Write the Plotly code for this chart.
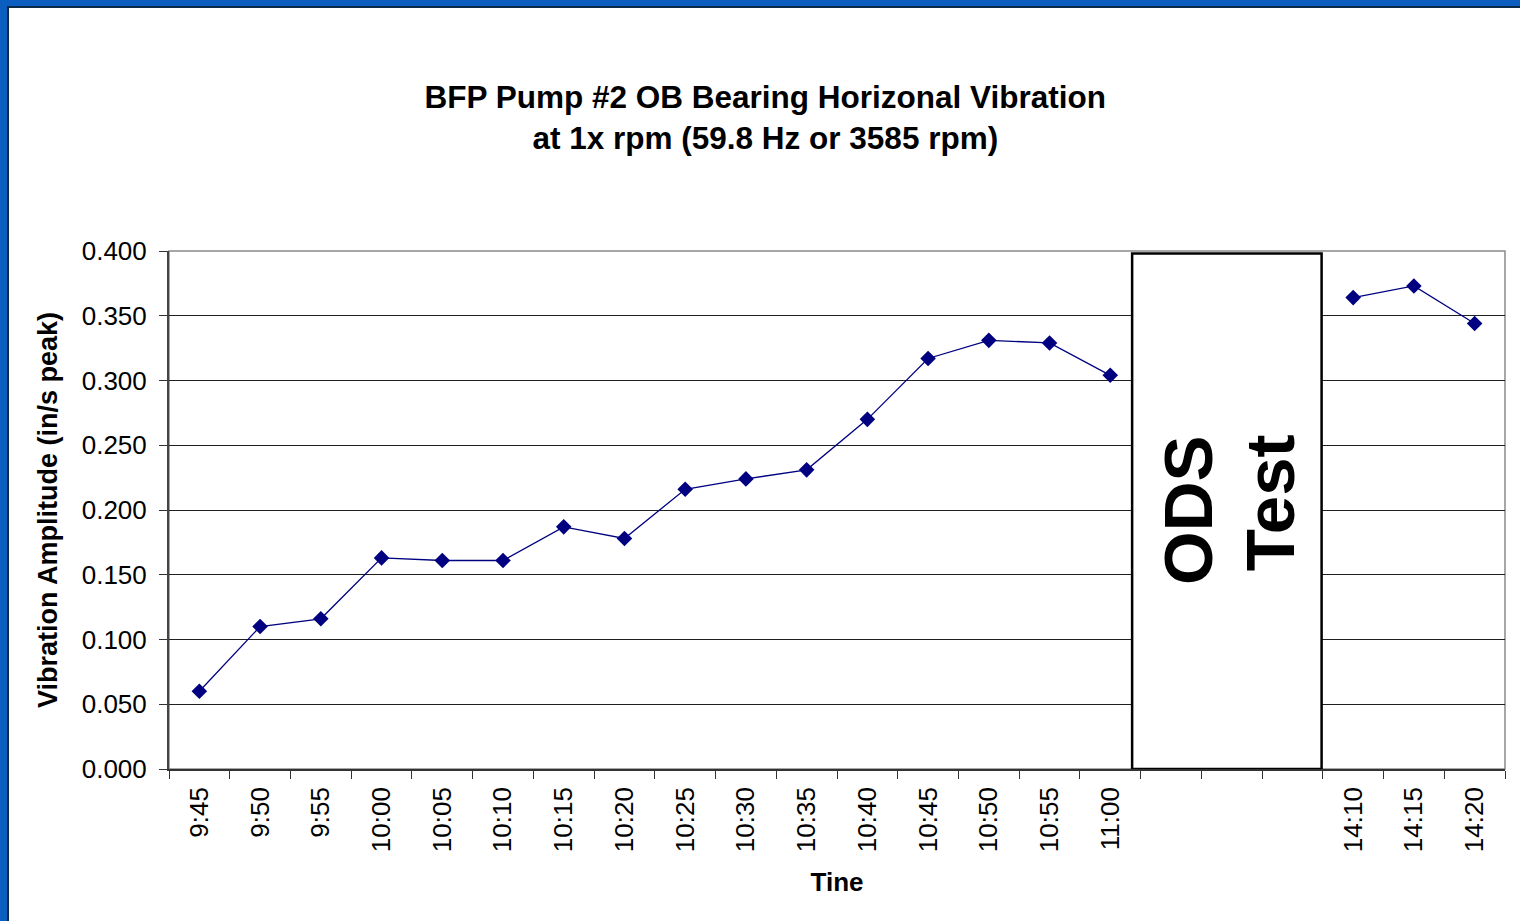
import plotly.graph_objects as go

# ---- data ----
time_labels = ["9:45", "9:50", "9:55", "10:00", "10:05", "10:10", "10:15", "10:20",
               "10:25", "10:30", "10:35", "10:40", "10:45", "10:50", "10:55", "11:00",
               "", "", "",
               "14:10", "14:15", "14:20"]
amplitude = [0.060, 0.110, 0.116, 0.163, 0.161, 0.161, 0.187, 0.178,
             0.216, 0.224, 0.231, 0.270, 0.317, 0.331, 0.329, 0.304,
             None, None, None,
             0.364, 0.373, 0.344]
y_ticks = [0.0, 0.05, 0.10, 0.15, 0.20, 0.25, 0.30, 0.35, 0.40]

x_idx = list(range(len(time_labels)))
n = len(time_labels)

fig = go.Figure()
fig.add_trace(go.Scatter(
    x=x_idx, y=amplitude, mode="lines+markers",
    line=dict(color="#000080", width=1.3),
    marker=dict(symbol="diamond", size=12, color="#000080"),
    connectgaps=False, showlegend=False, hoverinfo="x+y"))

FONT = "Liberation Sans, Arial, sans-serif"

shapes = [
    # white slide area over blue background
    dict(type="rect", xref="paper", yref="paper", x0=-0.1205, x1=1.03, y0=-0.35, y1=1.471,
         fillcolor="white", line=dict(color="#0a2a4a", width=2), layer="below"),
    # ODS Test box
    dict(type="rect", xref="x", yref="y", x0=15.36, x1=18.48, y0=0.0, y1=0.398,
         fillcolor="white", line=dict(color="black", width=2.5), layer="above"),
    # plot frame (top/right) in gray
    dict(type="rect", xref="paper", yref="paper", x0=0, x1=1, y0=0, y1=1,
         line=dict(color="#8a8a8a", width=1.5), fillcolor="rgba(0,0,0,0)", layer="below"),
]

fig.update_layout(
    width=1520, height=921,
    margin=dict(l=169, r=15, t=251, b=152, pad=0),
    paper_bgcolor="#0B5EC0",
    plot_bgcolor="white",
    font=dict(family=FONT, color="black"),
    title=dict(text="BFP Pump #2 OB Bearing Horizonal Vibration<br>at 1x rpm (59.8 Hz or 3585 rpm)",
               x=0.5035, xanchor="center", y=0.883, yanchor="middle",
               font=dict(family=FONT, size=31.5, color="black", weight="bold")),
    shapes=shapes,
    annotations=[
        dict(text="<b>ODS</b>", xref="x", yref="y", x=16.28, y=0.200,
             showarrow=False, textangle=-90, font=dict(family=FONT, size=69, color="black")),
        dict(text="<b>Test</b>", xref="x", yref="y", x=17.63, y=0.206,
             showarrow=False, textangle=-90, font=dict(family=FONT, size=69, color="black")),
    ],
    showlegend=False,
)

fig.update_xaxes(
    range=[-0.5, n - 0.5],
    tickmode="array", tickvals=x_idx, ticktext=time_labels, tickangle=-90,
    ticks="", showgrid=False, ticklabelstandoff=6,
    tickfont=dict(family=FONT, size=26, color="black"),
    showline=True, linecolor="#333333", linewidth=1.5, mirror=False,
    minor=dict(tickmode="array", tickvals=[i - 0.5 for i in range(n + 1)],
               ticks="outside", ticklen=8, tickcolor="#333333", tickwidth=1, showgrid=False),
    title=dict(text="<b>Tine</b>", font=dict(family=FONT, size=26, color="black"), standoff=22),
    zeroline=False,
)
fig.update_yaxes(
    range=[0, 0.4],
    tickmode="array", tickvals=y_ticks, ticktext=[f"{v:.3f}" for v in y_ticks],
    ticks="outside", ticklen=8, tickcolor="#333333", ticklabelstandoff=7,
    tickfont=dict(family=FONT, size=26, color="black"),
    showgrid=True, gridcolor="#202020", gridwidth=1,
    showline=True, linecolor="#444444", linewidth=2,
    title=dict(text="<b>Vibration Amplitude (in/s peak)</b>",
               font=dict(family=FONT, size=27, color="black"), standoff=16),
    zeroline=False,
)

fig.write_html("out.html", config={"displayModeBar": False},
               post_script="document.body.style.margin='0';document.body.style.overflow='hidden';")
